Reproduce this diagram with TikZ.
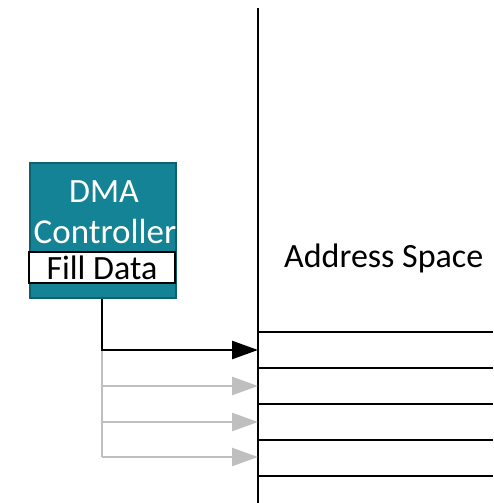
\documentclass[tikz,border=0pt]{standalone}
\usepackage{fontspec}
\setmainfont{Carlito}
\usetikzlibrary{arrows.meta}
\definecolor{dmateal}{RGB}{21,131,150}
\definecolor{dmaedge}{RGB}{14,98,112}
\definecolor{ghost}{RGB}{191,191,191}
\begin{document}
\begin{tikzpicture}[x=1pt,y=-1pt,
    bigtext/.style={font=\fontsize{34}{41}\selectfont},
    wire/.style={line width=2.5pt},
    tip/.style={-{Triangle[length=26pt,width=18pt]}}]
  \useasboundingbox (0,0) rectangle (493,503);
  % address space
  \draw[wire] (258,8) -- (258,503);
  \foreach \y in {332,368,404,440,476}
    \draw[wire] (258,\y) -- (493,\y);
  \node[bigtext,anchor=base west,inner sep=0pt] (space) at (284,267) {Address Space};
  % controller
  \node[draw=dmaedge,line width=1.5pt,fill=dmateal,minimum width=146,minimum height=135,
        anchor=north west,inner sep=0pt] (dma) at (29,162) {};
  \node[bigtext,text=white,anchor=base,inner sep=0pt] (dmaname) at (104,202) {DMA};
  \node[font=\fontsize{35}{41}\selectfont,text=white,anchor=base,inner sep=0pt] (dmakind) at (105,243) {Controller};
  \node[bigtext,draw=black,line width=2pt,fill=white,minimum width=146,minimum height=31,
        inner sep=0pt] (fill) at (102,267.5) {Fill Data};
  % writes
  \coordinate (tap) at (102,350);
  \coordinate (ghostend) at (102,457);
  \foreach \y [count=\k] in {350,386,422,457} {
    \coordinate (src\k) at (102,\y);
    \coordinate (dst\k) at (258,\y);
  }
  \draw[wire,ghost] (tap) -- (ghostend);
  \foreach \k in {2,3,4}
    \draw[wire,ghost,tip] (src\k) -- (dst\k);
  \draw[wire,tip] (dma.south -| tap) -- (tap) -- (dst1);
\end{tikzpicture}
\end{document}
